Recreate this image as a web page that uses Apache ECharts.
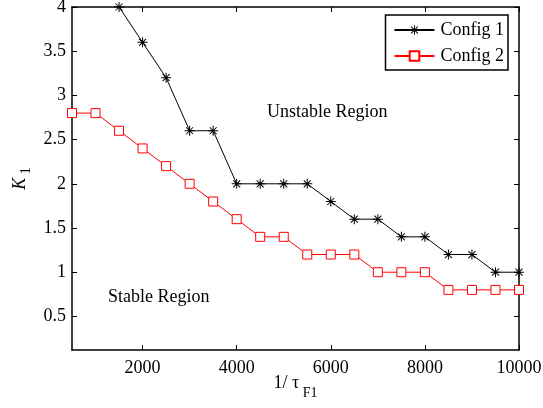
<!DOCTYPE html>
<html>
<head>
<meta charset="utf-8">
<script src="https://cdn.jsdelivr.net/npm/echarts@6/dist/echarts.min.js"></script>
<style>
html, body { margin: 0; padding: 0; background: #fff; }
#chart { width: 543px; height: 408px; }
</style>
</head>
<body>
<div id="chart"></div>
<script>
var xConfig1 = [1500, 2000, 2500, 3000, 3500, 4000, 4500, 5000, 5500, 6000, 6500, 7000, 7500, 8000, 8500, 9000, 9500, 10000];
var yConfig1 = [4.0, 3.6, 3.2, 2.6, 2.6, 2.0, 2.0, 2.0, 2.0, 1.8, 1.6, 1.6, 1.4, 1.4, 1.2, 1.2, 1.0, 1.0];
var xConfig2 = [500, 1000, 1500, 2000, 2500, 3000, 3500, 4000, 4500, 5000, 5500, 6000, 6500, 7000, 7500, 8000, 8500, 9000, 9500, 10000];
var yConfig2 = [2.8, 2.8, 2.6, 2.4, 2.2, 2.0, 1.8, 1.6, 1.4, 1.4, 1.2, 1.2, 1.2, 1.0, 1.0, 1.0, 0.8, 0.8, 0.8, 0.8];
var xTicks = [2000, 4000, 6000, 8000, 10000];
var yTicks = [0.5, 1, 1.5, 2, 2.5, 3, 3.5, 4];
var seriesNames = ['Config 1', 'Config 2'];

var serif = 'Liberation Serif';
// matlab style '*' marker
var asterisk = 'path://M-1,-10L1,-10L1,10L-1,10Z M-10,-1L10,-1L10,1L-10,1Z ' +
    'M-6.3,-7.7L7.7,6.3L6.3,7.7L-7.7,-6.3Z M6.3,-7.7L7.7,-6.3L-6.3,7.7L-7.7,6.3Z';

function pairs(xs, ys) {
    return xs.map(function (x, i) { return [x, ys[i]]; });
}

var axisCommon = {
    axisLine: { show: true, onZero: false, lineStyle: { color: '#000', width: 1.5 } },
    axisTick: { show: true, inside: true, length: 5, lineStyle: { color: '#000' } },
    splitLine: { show: false }
};

var option = {
    animation: false,
    backgroundColor: '#fff',
    grid: { left: 72, top: 7, right: 24, bottom: 58, outerBoundsMode: 'none', containLabel: false },
    legend: {
        data: seriesNames,
        orient: 'vertical',
        right: 35,
        top: 15,
        itemWidth: 40,
        itemHeight: 12,
        itemGap: 8,
        padding: [6, 4, 5, 8],
        borderColor: '#000',
        borderWidth: 1.5,
        borderRadius: 0,
        backgroundColor: '#fff',
        textStyle: { fontFamily: serif, fontSize: 18, color: '#000', padding: [0, 0, 0, 1] }
    },
    xAxis: [
        Object.assign({}, axisCommon, {
            type: 'value',
            min: 500,
            max: 10000,
            axisTick: Object.assign({}, axisCommon.axisTick, { customValues: xTicks }),
            axisLabel: {
                customValues: xTicks,
                formatter: function (v) { return String(v); },
                fontFamily: serif, fontSize: 18, color: '#000', margin: 9
            },
            name: '{a|1/ \u03c4}{b| F1}',
            nameLocation: 'middle',
            nameGap: 16,
            nameMoveOverlap: false,
            nameTextStyle: {
                rich: {
                    a: { fontFamily: serif, fontSize: 18, color: '#000' },
                    b: { fontFamily: serif, fontSize: 14, color: '#000', padding: [20, 0, 0, 0] }
                }
            }
        }),
        Object.assign({}, axisCommon, {
            type: 'value',
            position: 'top',
            min: 500,
            max: 10000,
            axisTick: Object.assign({}, axisCommon.axisTick, { customValues: xTicks }),
            axisLabel: { show: false }
        })
    ],
    yAxis: [
        Object.assign({}, axisCommon, {
            type: 'value',
            min: 0.12,
            max: 4,
            axisTick: Object.assign({}, axisCommon.axisTick, { customValues: yTicks }),
            axisLabel: {
                customValues: yTicks,
                fontFamily: serif, fontSize: 18, color: '#000', margin: 6
            },
            name: '{k|K}{s| 1}',
            nameLocation: 'middle',
            nameRotate: 90,
            nameGap: 39,
            nameMoveOverlap: false,
            nameTextStyle: {
                rich: {
                    k: { fontFamily: serif, fontStyle: 'italic', fontSize: 18, color: '#000' },
                    s: { fontFamily: serif, fontSize: 14, color: '#000', padding: [12, 0, 0, 0] }
                }
            }
        }),
        Object.assign({}, axisCommon, {
            type: 'value',
            position: 'right',
            min: 0.12,
            max: 4,
            axisTick: Object.assign({}, axisCommon.axisTick, { customValues: yTicks }),
            axisLabel: { show: false }
        })
    ],
    graphic: [
        {
            type: 'text', left: 267, top: 103,
            style: { text: 'Unstable Region', fontFamily: serif, fontSize: 18, fill: '#000' }
        },
        {
            type: 'text', left: 108, top: 288,
            style: { text: 'Stable Region', fontFamily: serif, fontSize: 18, fill: '#000' }
        }
    ],
    series: [
        {
            name: seriesNames[0],
            type: 'line',
            data: pairs(xConfig1, yConfig1),
            symbol: asterisk,
            symbolSize: 10,
            color: '#000',
            lineStyle: { color: '#000', width: 1 },
            itemStyle: { color: '#000' },
            clip: false,
            z: 3
        },
        {
            name: seriesNames[1],
            type: 'line',
            data: pairs(xConfig2, yConfig2),
            symbol: 'rect',
            symbolSize: 9,
            color: '#ff0000',
            lineStyle: { color: '#ff0000', width: 1 },
            itemStyle: { color: '#fff', borderColor: '#ff0000', borderWidth: 1 },
            clip: false,
            z: 2
        }
    ]
};

var chart = echarts.init(document.getElementById('chart'));
chart.setOption(option);
</script>
</body>
</html>
